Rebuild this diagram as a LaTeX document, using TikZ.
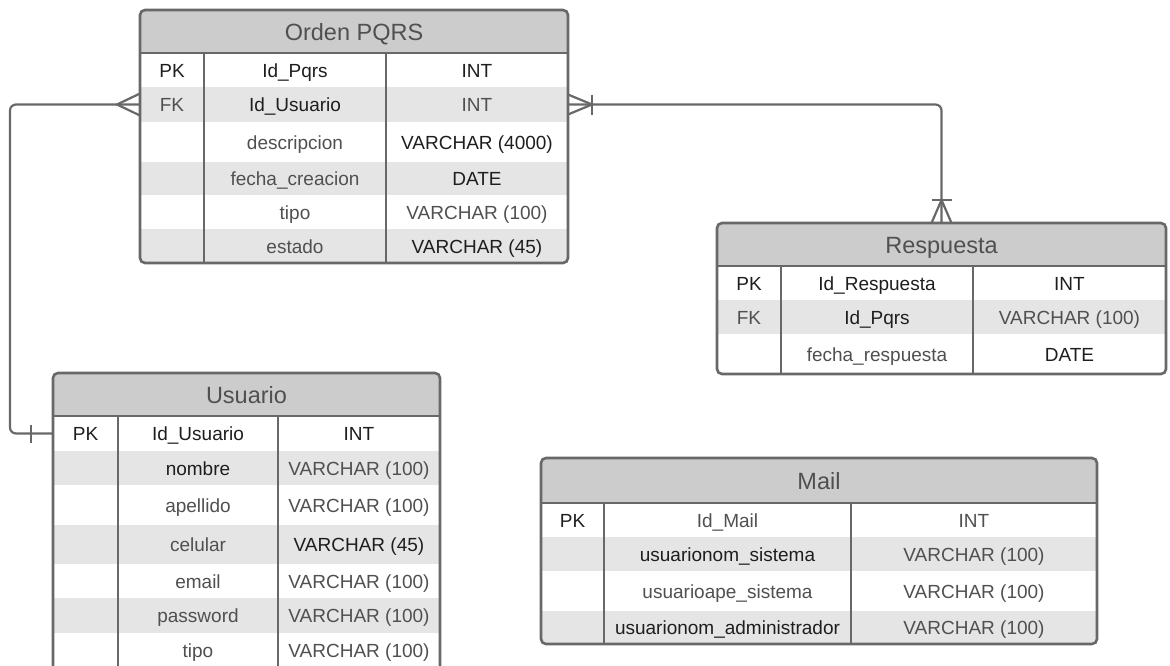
\documentclass[tikz,border=0pt]{standalone}
\usepackage{fontspec}
\setmainfont{Liberation Sans}
\usetikzlibrary{fit}
\definecolor{edge}{HTML}{686868}
\definecolor{hdrfill}{HTML}{CCCCCC}
\definecolor{band}{HTML}{E5E5E5}
\definecolor{inkdark}{HTML}{1E1E1E}
\definecolor{inkgrey}{HTML}{505050}
\newcommand\dk[1]{\textcolor{inkdark}{#1}}
\tikzset{
  cell/.style={inner sep=0pt, text=inkgrey, text height=14pt, text depth=0pt,
    font=\fontsize{19}{22}\selectfont},
  tabletitle/.style={inner sep=0pt, text=inkgrey, text height=17pt, text depth=0pt,
    font=\fontsize{23.5}{27}\selectfont},
  boxline/.style={draw=edge, line width=2.6pt},
  tablebox/.style={boxline, inner sep=0pt, outer sep=0pt, rounded corners=5pt},
  conn/.style={draw=edge, line width=2.2pt},
}
% column edges of the current table
\newcommand\setcols[4]{\def\xa{#1}\def\xb{#2}\def\xc{#3}\def\xd{#4}}
% one table row: prefix, index, top, bottom, fill, key, field, type
\newcommand\erow[8]{%
  \fill[#5] (\xa,#3) rectangle (\xd,#4);
  \node[cell] (#1-#2-k) at ({(\xa+\xb)/2},{(#3+#4)/2}) {#6};
  \node[cell] (#1-#2-n) at ({(\xb+\xc)/2},{(#3+#4)/2}) {#7};
  \node[cell] (#1-#2-t) at ({(\xc+\xd)/2},{(#3+#4)/2}) {#8};
}
% header band and frame: prefix, top, header bottom, bottom, title
\newcommand\eframe[5]{%
  \draw[boxline] (\xa,#3) -- (\xd,#3);
  \draw[boxline] (\xb,#3) -- (\xb,#4) (\xc,#3) -- (\xc,#4);
  \node[tablebox, fit={(\xa,#2) (\xd,#4)}] (#1) {};
  \node[tabletitle] (#1-title) at ({(\xa+\xd)/2},{(#2+#3)/2}) {#5};
}
\begin{document}
\begin{tikzpicture}[x=1pt,y=-1pt]
\useasboundingbox (0,0) rectangle (1170,665);
\clip (0,0) rectangle (1170,665);

% ---- Orden PQRS
\setcols{140}{204}{386}{568}
\begin{scope}
  \clip[rounded corners=5pt] (\xa,10) rectangle (\xd,263);
  \fill[hdrfill] (\xa,10) rectangle (\xd,53);
  \erow{pq}{1}{53}{87}{white}{\dk{PK}}{\dk{Id\_Pqrs}}{\dk{INT}}
  \erow{pq}{2}{87}{122}{band}{FK}{\dk{Id\_Usuario}}{INT}
  \erow{pq}{3}{122}{162}{white}{}{descripcion}{\dk{VARCHAR (4000)}}
  \erow{pq}{4}{162}{195}{band}{}{fecha\_creacion}{\dk{DATE}}
  \erow{pq}{5}{195}{229}{white}{}{tipo}{VARCHAR (100)}
  \erow{pq}{6}{229}{263}{band}{}{estado}{\dk{VARCHAR (45)}}
\end{scope}
\eframe{pq}{10}{53}{263}{Orden PQRS}

% ---- Respuesta
\setcols{717}{781}{973}{1166}
\begin{scope}
  \clip[rounded corners=5pt] (\xa,223) rectangle (\xd,374);
  \fill[hdrfill] (\xa,223) rectangle (\xd,266);
  \erow{rs}{1}{266}{300}{white}{\dk{PK}}{\dk{Id\_Respuesta}}{\dk{INT}}
  \erow{rs}{2}{300}{334}{band}{FK}{\dk{Id\_Pqrs}}{VARCHAR (100)}
  \erow{rs}{3}{334}{374}{white}{}{fecha\_respuesta}{\dk{DATE}}
\end{scope}
\eframe{rs}{223}{266}{374}{Respuesta}

% ---- Usuario
\setcols{53}{118}{278}{440}
\begin{scope}
  \clip[rounded corners=5pt] (\xa,373) rectangle (\xd,672);
  \fill[hdrfill] (\xa,373) rectangle (\xd,416);
  \erow{us}{1}{416}{451}{white}{\dk{PK}}{\dk{Id\_Usuario}}{\dk{INT}}
  \erow{us}{2}{451}{485}{band}{}{\dk{nombre}}{VARCHAR (100)}
  \erow{us}{3}{485}{525}{white}{}{apellido}{VARCHAR (100)}
  \erow{us}{4}{525}{564}{band}{}{celular}{\dk{VARCHAR (45)}}
  \erow{us}{5}{564}{598}{white}{}{email}{VARCHAR (100)}
  \erow{us}{6}{598}{633}{band}{}{password}{VARCHAR (100)}
  \erow{us}{7}{633}{667}{white}{}{tipo}{VARCHAR (100)}
\end{scope}
\eframe{us}{373}{416}{672}{Usuario}

% ---- Mail
\setcols{541}{604}{851}{1097}
\begin{scope}
  \clip[rounded corners=5pt] (\xa,458) rectangle (\xd,644);
  \fill[hdrfill] (\xa,458) rectangle (\xd,503);
  \erow{ml}{1}{503}{537}{white}{\dk{PK}}{Id\_Mail}{INT}
  \erow{ml}{2}{537}{571}{band}{}{\dk{usuarionom\_sistema}}{VARCHAR (100)}
  \erow{ml}{3}{571}{611}{white}{}{usuarioape\_sistema}{VARCHAR (100)}
  \erow{ml}{4}{611}{644}{band}{}{\dk{usuarionom\_administrador}}{VARCHAR (100)}
\end{scope}
\eframe{ml}{458}{503}{644}{Mail}

% ---- relationships
\coordinate (bendL) at (10,0);
\coordinate (fkL) at (pq.west |- pq-2-k);
\coordinate (pkU) at (us.west |- us-1-k);
\coordinate (fkR) at (pq.east |- pq-2-k);

% Orden PQRS (many) -- Usuario (one)
\draw[conn, rounded corners=6pt] (fkL) -- (bendL |- fkL) -- (bendL |- pkU) -- (pkU);
\draw[conn] ([yshift=11pt]fkL) -- ([xshift=-23pt]fkL) -- ([yshift=-11pt]fkL);
\draw[conn] ([xshift=-22pt,yshift=9pt]pkU) -- ([xshift=-22pt,yshift=-9pt]pkU);

% Orden PQRS (one or many) -- Respuesta (one or many)
\draw[conn, rounded corners=6pt] (fkR) -- (rs.north |- fkR) -- (rs.north);
\draw[conn] ([yshift=10pt]fkR) -- ([xshift=24pt]fkR) -- ([yshift=-10pt]fkR);
\draw[conn] ([xshift=24pt,yshift=10pt]fkR) -- ([xshift=24pt,yshift=-10pt]fkR);
\draw[conn] ([xshift=-10pt]rs.north) -- ([yshift=23pt]rs.north) -- ([xshift=10pt]rs.north);
\draw[conn] ([xshift=-10pt,yshift=23pt]rs.north) -- ([xshift=10pt,yshift=23pt]rs.north);
\end{tikzpicture}
\end{document}
